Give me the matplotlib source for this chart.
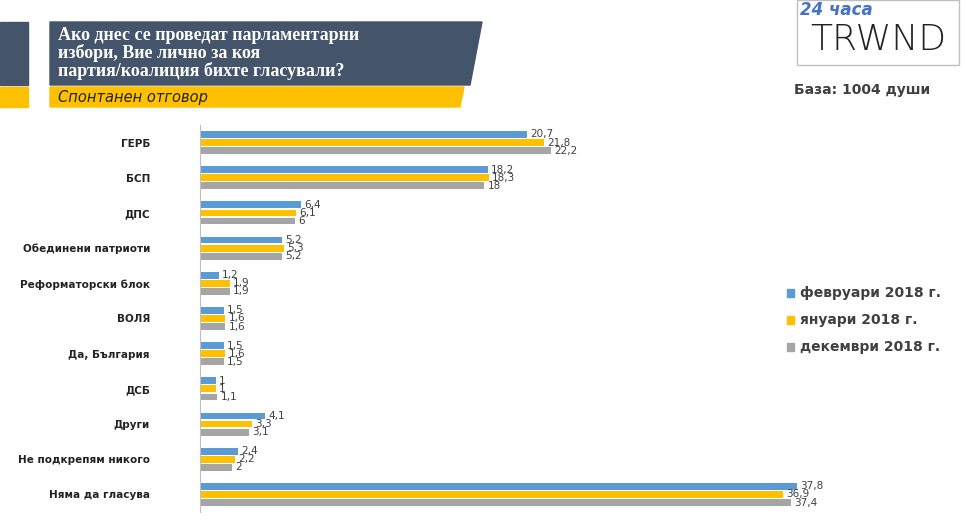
import matplotlib.pyplot as plt
from matplotlib.patches import Polygon, Rectangle
import numpy as np

parties = ["ГЕРБ", "БСП", "ДПС", "Обединени патриоти", "Реформаторски блок", "ВОЛЯ",
           "Да, България", "ДСБ", "Други", "Не подкрепям никого", "Няма да гласува"]
feb = [20.7, 18.2, 6.4, 5.2, 1.2, 1.5, 1.5, 1.0, 4.1, 2.4, 37.8]
jan = [21.8, 18.3, 6.1, 5.3, 1.9, 1.6, 1.6, 1.0, 3.3, 2.2, 36.9]
dec = [22.2, 18.0, 6.0, 5.2, 1.9, 1.6, 1.5, 1.1, 3.1, 2.0, 37.4]
series = [("февруари 2018 г.", feb, "#5B9BD5"),
          ("януари 2018 г.", jan, "#FFC000"),
          ("декември 2018 г.", dec, "#A5A5A5")]

W, H = 966, 521
fig = plt.figure(figsize=(W / 100, H / 100), dpi=100)
fig.patch.set_facecolor("white")

def fx(px): return px / W
def fy(py): return 1 - py / H

def fmt(v):
    s = f"{v:.1f}".replace(".", ",")
    return s[:-2] if s.endswith(",0") else s

ax = fig.add_axes([fx(200), fy(512), fx(766), (512 - 125) / H])
y = np.arange(len(parties))
bh = 0.23
for i, (name, vals, col) in enumerate(series):
    pos = y + (i - 1) * bh
    ax.barh(pos, vals, height=bh * 0.85, color=col)
    for p, v in zip(pos, vals):
        ax.text(v + 0.2, p, fmt(v), va="center", ha="left", fontsize=7.5, color="#404040")
ax.set_ylim(len(parties) - 0.5, -0.5)
ax.set_xlim(0, 766 / 15.8)
ax.set_yticks(y)
ax.set_yticklabels(parties, fontsize=7.5, fontweight="bold", color="#222222")
ax.tick_params(axis="y", length=0, pad=36)
ax.set_xticks([])
for s in ["top", "right", "bottom"]:
    ax.spines[s].set_visible(False)
ax.spines["left"].set_color("#BFBFBF")

# header banners
fig.patches.append(Rectangle((0, fy(85)), fx(28), fy(22) - fy(85), transform=fig.transFigure,
                             color="#44546A"))
fig.patches.append(Polygon([(fx(50), fy(22)), (fx(482), fy(22)), (fx(470), fy(85)), (fx(50), fy(85))],
                           closed=True, transform=fig.transFigure, color="#44546A"))
fig.patches.append(Rectangle((0, fy(107)), fx(28), fy(87) - fy(107), transform=fig.transFigure,
                             color="#FFC000"))
fig.patches.append(Polygon([(fx(50), fy(87)), (fx(464), fy(87)), (fx(460), fy(107)), (fx(50), fy(107))],
                           closed=True, transform=fig.transFigure, color="#FFC000"))
fig.text(fx(58), fy(53), "Ако днес се проведат парламентарни\nизбори, Вие лично за коя\nпартия/коалиция бихте гласували?",
         fontsize=13, fontweight="bold", color="white", va="center", ha="left",
         family="Liberation Serif", linespacing=1.0)
fig.text(fx(58), fy(97), "Спонтанен отговор", fontsize=10.5, style="italic", color="#222222",
         va="center", ha="left")

# logo
fig.patches.append(Rectangle((fx(797), fy(65)), fx(162), fy(0) - fy(65), transform=fig.transFigure,
                             facecolor="white", edgecolor="#BFBFBF"))
fig.text(fx(800), fy(10), "24 часа", fontsize=12, style="italic", fontweight="bold",
         color="#4472C4", va="center")
fig.text(fx(878), fy(40), "TRWND", fontsize=26, color="#222222", va="center", ha="center",
         family="DejaVu Sans", fontweight="light")
fig.text(fx(862), fy(90), "База: 1004 души", fontsize=10, fontweight="bold", color="#404040",
         va="center", ha="center")

# legend
for i, (name, vals, col) in enumerate(series):
    yy = fy(293 + i * 27)
    fig.patches.append(Rectangle((fx(787), yy - 0.008), fx(7), 0.016, transform=fig.transFigure, color=col))
    fig.text(fx(800), yy, name, fontsize=10, fontweight="bold", color="#404040", va="center")

fig.savefig("out.png", dpi=100)
